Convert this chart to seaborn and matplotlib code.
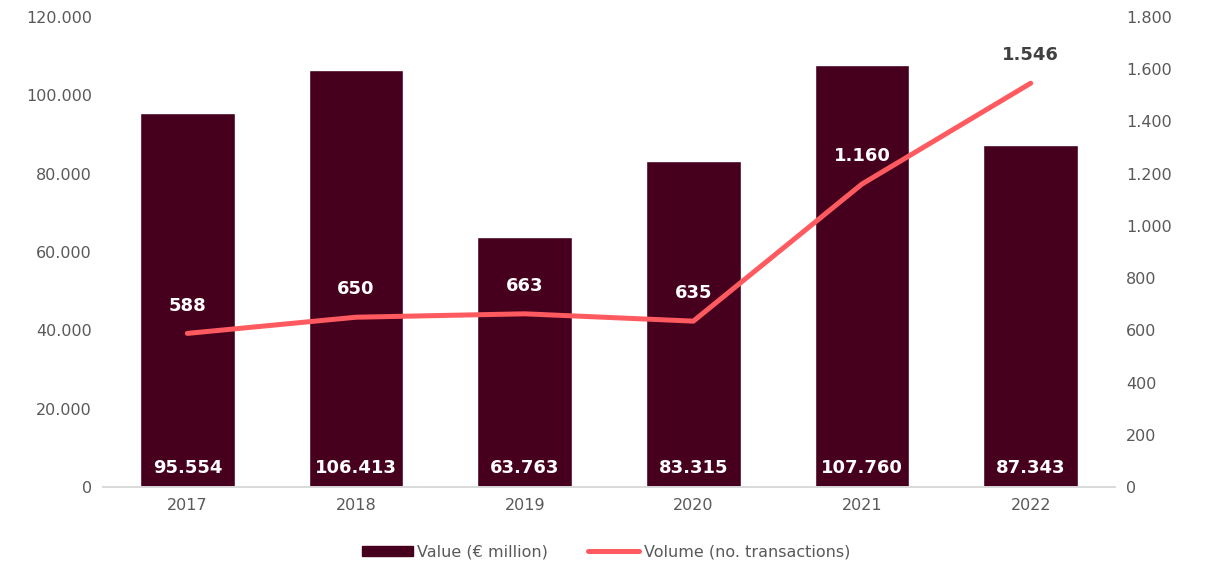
import numpy as np
import pandas as pd
import matplotlib.pyplot as plt
import seaborn as sns
from matplotlib.ticker import FuncFormatter, MultipleLocator
from matplotlib.patches import Patch
from matplotlib.lines import Line2D

years = ["2017", "2018", "2019", "2020", "2021", "2022"]
value_meur = [95554, 106413, 63763, 83315, 107760, 87343]
volume_tx = [588, 650, 663, 635, 1160, 1546]

BAR_COLOR = "#46001E"
LINE_COLOR = "#FF5A5F"
TEXT_COLOR = "#595959"


def dotted(v, pos=None):
    return f"{v:,.0f}".replace(",", ".")


sns.set_theme(style="white")
plt.rcParams["font.family"] = ["DejaVu Sans"]

df = pd.DataFrame({"year": years, "value": value_meur, "volume": volume_tx})

fig = plt.figure(figsize=(12.12, 5.62), dpi=100)
ax = fig.add_axes([0.085, 0.1335, 0.835, 0.8365])

sns.barplot(data=df, x="year", y="value", color=BAR_COLOR, width=0.56,
            saturation=1, ax=ax)
ax.set_xlim(-0.5, len(years) - 0.5)
ax.set_ylim(0, 120000)
ax.yaxis.set_major_locator(MultipleLocator(20000))
ax.yaxis.set_major_formatter(FuncFormatter(dotted))
ax.set_xlabel("")
ax.set_ylabel("")

ax2 = ax.twinx()
sns.lineplot(x=np.arange(len(years)), y=df["volume"], color=LINE_COLOR,
             linewidth=3.6, ax=ax2, solid_capstyle="round", solid_joinstyle="round")
ax2.set_ylim(0, 1800)
ax2.yaxis.set_major_locator(MultipleLocator(200))
ax2.yaxis.set_major_formatter(FuncFormatter(dotted))
ax2.set_ylabel("")

for a in (ax, ax2):
    for s in ("top", "left", "right"):
        a.spines[s].set_visible(False)
    a.spines["bottom"].set_color("#D9D9D9")
    a.spines["bottom"].set_linewidth(1.2)
    a.tick_params(axis="both", length=0, labelsize=11.5, colors=TEXT_COLOR, pad=8)

# bar labels at the bottom of each bar
for i, v in enumerate(value_meur):
    ax.annotate(dotted(v), xy=(i, 0), xytext=(0, 14), textcoords="offset points",
                ha="center", va="center", color="white", fontsize=13,
                fontweight="bold")

# line labels above each point
for i, v in enumerate(volume_tx):
    col = "white" if i < len(volume_tx) - 1 else "#404040"
    ax2.annotate(dotted(v), xy=(i, v), xytext=(0, 20), textcoords="offset points",
                 ha="center", va="center", color=col, fontsize=13,
                 fontweight="bold")

handles = [Patch(facecolor=BAR_COLOR, edgecolor=BAR_COLOR),
           Line2D([0], [0], color=LINE_COLOR, lw=3.6, solid_capstyle="round")]
fig.legend(handles, ["Value (€ million)", "Volume (no. transactions)"],
           loc="center", bbox_to_anchor=(0.5, 0.018), ncol=2, frameon=False,
           fontsize=11.5, labelcolor=TEXT_COLOR, handlelength=3.2,
           handleheight=0.6, handletextpad=0.3, columnspacing=2.5)

fig.savefig("out.png", dpi=100)
